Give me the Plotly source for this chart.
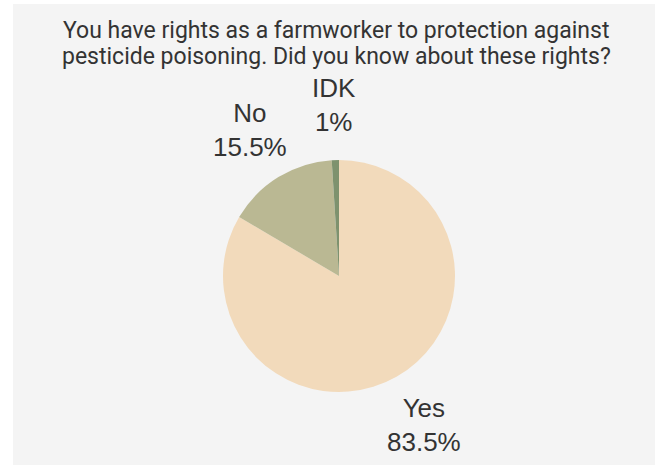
import math
import plotly.graph_objects as go

# Survey answers
labels = ["Yes", "No", "IDK"]
shares = [83.5, 15.5, 1.0]
share_text = ["83.5%", "15.5%", "1%"]
colors = ["#f2dabb", "#bab893", "#7e926e"]

title_lines = ["You have rights as a farmworker to protection against",
               "pesticide poisoning. Did you know about these rights?"]

W, H = 655, 465
cx, cy, radius = 339, 276, 116      # pie centre / radius in pixels
label_r = 171                        # distance of the slice labels from the centre

fig = go.Figure(
    go.Pie(
        labels=labels,
        values=shares,
        sort=False,
        direction="clockwise",
        rotation=0,
        marker=dict(colors=colors, line=dict(width=0)),
        textinfo="none",
        hoverinfo="label+percent",
        showlegend=False,
        domain=dict(
            x=[(cx - radius) / W, (cx + radius) / W],
            y=[(H - cy - radius) / H, (H - cy + radius) / H],
        ),
    )
)

# Slice labels placed along each slice's mid angle
total = sum(shares)
start = 0.0
annotations = []
for lab, val, txt in zip(labels, shares, share_text):
    mid = (start + val / 2) / total * 2 * math.pi
    start += val
    px = cx + label_r * math.sin(mid)
    py = cy - label_r * math.cos(mid)
    annotations.append(dict(
        x=px / W, y=(H - py) / H, xref="paper", yref="paper",
        text=f"{lab}<br>{txt}", showarrow=False,
        xanchor="center", yanchor="middle", align="center",
        font=dict(family="Liberation Sans, Arial, sans-serif", size=26, color="#333333"),
    ))

# Two-line heading, each line set separately for tighter leading
for line, ymid in zip(title_lines, [30, 56]):
    annotations.append(dict(
        x=336.5 / W, y=(H - ymid) / H, xref="paper", yref="paper",
        text=line, showarrow=False, xanchor="center", yanchor="middle",
        font=dict(family="Roboto, sans-serif", size=23, color="#333333"),
    ))

fig.update_layout(
    width=W, height=H,
    margin=dict(l=0, r=0, t=0, b=0),
    paper_bgcolor="white",
    plot_bgcolor="white",
    annotations=annotations,
    shapes=[dict(
        type="rect", xref="paper", yref="paper",
        x0=13 / W, x1=1, y0=0, y1=(H - 4) / H,
        fillcolor="#f4f4f4", line=dict(width=0), layer="below",
    )],
)

fig.write_html("out.html")
